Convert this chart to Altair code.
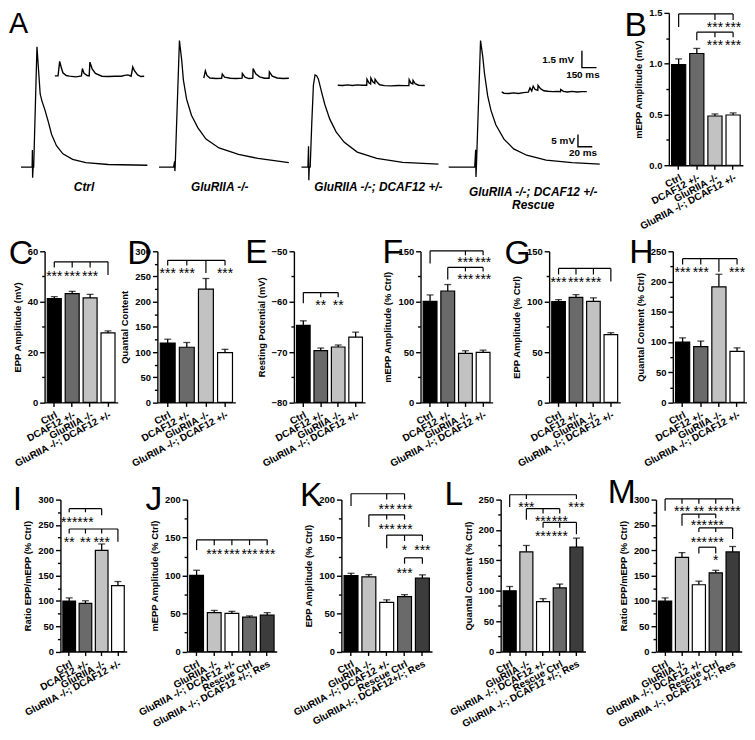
import altair as alt
import pandas as pd

FONT = "Liberation Sans"
SX = 0.985
SY = 0.975
ANGLE = -28
LETTER_SIZE = 34

# ---------------- categories / colours ----------------
GROUPS_4 = ["Ctrl", "DCAF12 +/-", "GluRIIA -/-", "GluRIIA -/-; DCAF12 +/-"]
GROUPS_5 = ["Ctrl", "GluRIIA -/-", "GluRIIA -/-; DCAF12 +/-", "Rescue Ctrl", "GluRIIA -/-; DCAF12 +/-; Res"]
GROUPS_5K = ["Ctrl", "GluRIIA -/-", "GluRIIA -/-; DCAF12 +/-", "Rescue Ctrl", "GluRIIA-/-; DCAF12+/-; Res"]
COLORS_4 = ["#000000", "#6a6a6a", "#c2c2c2", "#ffffff"]
COLORS_5 = ["#000000", "#c2c2c2", "#ffffff", "#6a6a6a", "#3c3c3c"]

# ---------------- bar values (mean, s.e.m.) ----------------
B_MEAN = [0.99, 1.10, 0.485, 0.495]; B_ERR = [0.057, 0.05, 0.02, 0.02]
C_MEAN = [41.2, 43.2, 41.5, 27.6]; C_ERR = [0.8, 0.9, 1.4, 0.8]
D_MEAN = [118, 109.5, 225, 99]; D_ERR = [7.5, 9.5, 21, 6.4]
E_MEAN = [-64.7, -69.7, -69.0, -67.05]; E_ERR = [0.9, 0.5, 0.4, 1.0]
F_MEAN = [100.3, 110.6, 48.7, 49.7]; F_ERR = [6.4, 6.4, 2.6, 2.2]
G_MEAN = [100, 104.2, 100.3, 67.3]; G_ERR = [2, 2.8, 3.5, 1.9]
H_MEAN = [99.9, 92.4, 191.2, 84.4]; H_ERR = [6.9, 9.1, 20.8, 5.9]
I_MEAN = [99.6, 95.1, 199.7, 130]; I_ERR = [6.3, 5.1, 12.7, 8.2]
J_MEAN = [100.2, 51.2, 50.3, 45.2, 47.8]; J_ERR = [6.8, 2.9, 2.6, 1.7, 3.4]
K_MEAN = [100, 98.3, 64.7, 72.3, 96.6]; K_ERR = [3, 3, 3.4, 2.6, 4.3]
L_MEAN = [100, 164, 82, 104.6, 172]; L_ERR = [7, 10.5, 5, 6.4, 14.6]
M_MEAN = [99.6, 185.8, 131.9, 155.4, 196.6]; M_ERR = [6.3, 9.5, 7, 5, 10.8]

# ---------------- significance brackets ----------------
# horizontal lines (from group, to group, level); legs (group, top, bottom); stars (group, level, text)
B_HL = [(0, 3, 1.49), (1, 3, 1.31)]
B_LEG = [(0, 1.49, 1.36), (2, 1.49, 1.43), (3, 1.49, 1.43), (1, 1.31, 1.23), (2, 1.31, 1.26), (3, 1.31, 1.26)]
B_ST = [(2, 1.39, "***"), (3, 1.39, "***"), (2, 1.21, "***"), (3, 1.21, "***")]
C_HL = [(0, 3, 55.8)]
C_LEG = [(0, 55.8, 53.6), (1, 55.8, 53.6), (2, 55.8, 53.6), (3, 55.8, 50.6)]
C_ST = [(0, 51.5, "***"), (1, 51.5, "***"), (2, 51.5, "***")]
D_HL = [(0, 3, 282)]
D_LEG = [(0, 282, 272), (1, 282, 272), (2, 282, 257), (3, 282, 272)]
D_ST = [(0, 262, "***"), (1, 262, "***"), (3, 262, "***")]
E_HL = [(0, 2, -58.2)]
E_LEG = [(0, -58.2, -60.3), (1, -58.2, -59.1), (2, -58.2, -59.1)]
E_ST = [(1, -60.0, "**"), (2, -60.0, "**")]
F_HL = [(0, 3, 150.5), (1, 3, 134)]
F_LEG = [(0, 150.5, 138), (2, 150.5, 146), (3, 150.5, 146), (1, 134, 122), (2, 134, 130), (3, 134, 130)]
F_ST = [(2, 142, "***"), (3, 142, "***"), (2, 125.5, "***"), (3, 125.5, "***")]
G_HL = [(0, 3, 133)]
G_LEG = [(0, 133, 127), (1, 133, 127), (2, 133, 127), (3, 133, 120)]
G_ST = [(0, 122.5, "***"), (1, 122.5, "***"), (2, 122.5, "***")]
H_HL = [(0, 3, 237.8)]
H_LEG = [(0, 237.8, 228), (1, 237.8, 228), (2, 237.8, 216), (3, 237.8, 228)]
H_ST = [(0, 221, "***"), (1, 221, "***"), (3, 221, "***")]
I_HL = [(0, 2, 282), (0, 3, 242)]
I_LEG = [(0, 282, 275), (1, 282, 275), (2, 282, 269), (0, 242, 233), (1, 242, 233), (2, 242, 233), (3, 242, 217)]
I_ST = [(0, 262, "***"), (1, 262, "***"), (0, 223, "**"), (1, 223, "**"), (2, 223, "***")]
J_HL = [(0, 4, 147)]
J_LEG = [(0, 147, 133.5), (1, 147, 140), (2, 147, 140), (3, 147, 140), (4, 147, 140)]
J_ST = [(1, 132, "***"), (2, 132, "***"), (3, 132, "***"), (4, 132, "***")]
K_HL = [(0, 3, 207.7), (1, 3, 180), (2, 4, 153.3), (3, 4, 123.4)]
K_LEG = [(0, 207.7, 191.6), (2, 207.7, 200), (3, 207.7, 200), (1, 180, 164), (2, 180, 173.7), (3, 180, 173.7),
         (2, 153.3, 136), (3, 153.3, 145.6), (4, 153.3, 145.6), (3, 123.4, 115.6), (4, 123.4, 115.6)]
K_ST = [(2, 191.6, "***"), (3, 191.6, "***"), (2, 164.7, "***"), (3, 164.7, "***"), (3, 137, "*"), (4, 137, "***"), (3, 107.3, "***")]
L_HL = [(0, 4, 258), (1, 3, 235), (2, 4, 212.5)]
L_LEG = [(0, 258, 238), (1, 258, 251), (4, 258, 251), (1, 235, 216.7), (2, 235, 227), (3, 235, 227),
         (2, 212.5, 203.5), (3, 212.5, 203.5), (4, 212.5, 193)]
L_ST = [(1, 242, "***"), (4, 242, "***"), (2, 219, "***"), (3, 219, "***"), (2, 194.5, "***"), (3, 194.5, "***")]
M_HL = [(0, 4, 301.3), (1, 3, 271.5), (2, 4, 244), (2, 3, 206)]
M_LEG = [(0, 301.3, 278), (1, 301.3, 292), (2, 301.3, 292), (3, 301.3, 292), (4, 301.3, 292),
         (1, 271.5, 248.6), (2, 271.5, 263), (3, 271.5, 263), (2, 244, 236), (3, 244, 236), (4, 244, 222),
         (2, 206, 193.4), (3, 206, 193.4)]
M_ST = [(1, 282.3, "***"), (2, 282.3, "**"), (3, 282.3, "***"), (4, 282.3, "***"), (2, 255, "***"), (3, 255, "***"),
        (2, 223, "***"), (3, 223, "***"), (3, 187, "*")]

# ---------------- panel A traces (EPP: ms, mV ; mEPP: ms, mV) ----------------
EPP1_T = [-16, -0.4, 0, 0.3, 1.0, 1.8, 6.4, 8.6, 10.9, 13.2, 17.7, 22.2, 26.9, 33.7, 42.7, 56.3, 74.6, 106, 161]
EPP1_V = [0, 0, 7, -4.3, 0, 0, 49.3, 39.8, 30, 27.3, 23.3, 18.7, 13.4, 8.8, 5.5, 3.2, 1.9, 1.1, 0.8]
EPP2_T = [-21.8, -1.4, 0, 0.4, 0.8, 6.8, 10, 12.3, 16.8, 23.6, 32.7, 44, 62.2, 89.5, 116.8, 160]
EPP2_V = [0, 0, 2.4, -1.6, 0, 51.9, 43.8, 35.8, 27.9, 21.3, 16.1, 11.5, 7.9, 5.3, 3.6, 1.9]
EPP3_T = [-9.5, -0.5, 0.4, 0.8, 1.4, 2.7, 4.9, 7.2, 9.5, 11.7, 14.1, 18.6, 23.2, 30, 39, 50.5, 68.6, 95.9, 132.3, 182.3]
EPP3_V = [0, 0, 8.6, -5.3, 0, 0, 17.8, 33.6, 37.8, 37.5, 36.2, 30.9, 25.7, 19.8, 14.5, 10.2, 6.2, 3.6, 2, 1.3]
EPP4_T = [-37.8, -1.4, 0, 0.4, 1, 6.8, 10, 12.3, 16.8, 21.4, 28.2, 39.6, 53.2, 71.4, 98.6, 135, 173.7]
EPP4_V = [0, 0, 7.1, -4, 0, 51.9, 45.1, 38.5, 29.2, 23.3, 17.4, 11.5, 7.5, 4.9, 2.9, 1.9, 1.3]

MEPP1_T = [0, 33, 50, 67, 83, 117, 150, 217, 273, 283, 300, 333, 353, 360, 383, 417, 483, 550, 617, 683,
           717, 750, 783, 800, 817, 850, 883, 917]
MEPP1_V = [0, 0, 1.29, 0.72, 0.28, 0.03, -0.02, -0.09, 0, 0.66, 0.22, 0.03, 0, 1.23, 0.63, 0.22, -0.03, -0.06, -0.03, -0.03,
           0.05, 0.09, -0.03, 0.8, 0.46, 0.09, -0.06, -0.03]
MEPP2_T = [0, 16, 33, 63, 123, 183, 190, 213, 273, 333, 393, 396, 423, 463, 503, 506, 533, 573, 623, 670,
           673, 703, 753, 813, 873]
MEPP2_V = [0, 0.66, 0.23, 0.02, -0.03, 0, 0.38, 0.1, 0, -0.03, 0, 0.43, 0.1, -0.03, 0, 0.86, 0.40, 0.12, 0, 0,
           0.57, 0.19, 0.02, -0.03, 0]
MEPP3_T = [0, 50, 100, 150, 200, 250, 297, 300, 320, 337, 340, 360, 380, 383, 405, 430, 480, 550, 620, 690,
           730, 733, 750, 770, 773, 795, 830, 893]
MEPP3_V = [0, -0.03, 0.03, -0.03, 0.03, 0, 0, 0.54, 0.22, 0.11, 0.63, 0.3, 0.17, 0.54, 0.26, 0.04, -0.04, -0.06, -0.03, -0.04,
           -0.03, 0.49, 0.2, 0.11, 0.43, 0.13, 0, -0.03]
MEPP4_T = [0, 23, 73, 123, 173, 223, 273, 290, 308, 323, 343, 370, 373, 398, 433, 473, 523, 573, 603, 606,
           633, 673, 723, 773, 823, 873]
MEPP4_V = [0.11, 0, -0.03, 0.03, -0.03, 0.05, 0.09, 0.48, 0.2, 0.63, 0.33, 0.26, 0.69, 0.41, 0.22, 0.17, 0.14, 0.16, 0.14, 0.34,
           0.17, 0.11, 0.16, 0.11, 0.14, 0.14]

# genotype labels under the traces (text, time, voltage in that trace's coordinates)
TRACE_LABELS = [
    [("Ctrl", 72.3, -8.3)],
    [("GluRIIA -/-", 63.2, -8.3)],
    [("GluRIIA -/-; DCAF12 +/-", 98.2, -8.3)],
    [("GluRIIA -/-; DCAF12 +/-", 80.5, -10.3), ("Rescue", 80.5, -15.6)],
]

# scale bars (in the coordinates of the fourth trace)
EPP_BAR_T = [143.2, 143.2, 163.2]
EPP_BAR_V = [13.4, 8.4, 8.4]
MEPP_BAR_T = [823, 823, 973]
MEPP_BAR_V = [3.79, 2.29, 2.29]
EPP_BAR_TEXT = ["5 mV", "20 ms"]
MEPP_BAR_TEXT = ["1.5 mV", "150 ms"]


def ticks(lo, hi, step):
    out, k = [], 0
    while lo + k * step <= hi + 1e-9:
        out.append(round(lo + k * step, 6))
        k += 1
    return out


def letter_layer(letter, dx, by, size=LETTER_SIZE):
    # panel letter, placed relative to the panel's plotting area (pixels)
    return alt.Chart(pd.DataFrame({"s": [letter]})).mark_text(
        font=FONT, fontSize=size, align="left", baseline="alphabetic", color="black"
    ).encode(x=alt.value(dx * SX), y=alt.value(by * SY), text="s:N")


def spacer(w, h=1.0):
    return alt.Chart(pd.DataFrame({"s": [0]})).mark_point(opacity=0, size=1).encode(
        x=alt.value(0), y=alt.value(0)
    ).properties(width=w * SX, height=h * SY)


def bar_panel(letter, cats, colors, means, errs, base, ydom, major, minor, fmt, ytitle,
              w, h, hl, legs, stars, ldx, lby):
    n = len(cats)
    bars = pd.DataFrame({"g": cats, "v": means, "b": [base] * n, "col": colors,
                         "e": [m + e for m, e in zip(means, errs)]})
    hdf = pd.DataFrame({"g1": [cats[a] for a, b, y in hl], "g2": [cats[b] for a, b, y in hl],
                        "y": [y for a, b, y in hl]})
    ldf = pd.DataFrame({"g": [cats[a] for a, y1, y2 in legs], "y1": [y1 for a, y1, y2 in legs],
                        "y2": [y2 for a, y1, y2 in legs]})
    sdf = pd.DataFrame({"g": [cats[a] for a, y, t in stars], "y": [y for a, y, t in stars],
                        "t": [t for a, y, t in stars]})

    xs = alt.Scale(domain=cats, paddingInner=0.22, paddingOuter=0.15)
    xa = alt.Axis(title=None, labelAngle=ANGLE, labelAlign="right", labelBaseline="top", labelPadding=3,
                  tickSize=4, labelOverlap=False, labelLimit=400, labelFontSize=10)
    ys = alt.Scale(domain=ydom, nice=False, zero=False)
    minor_test = f"abs(datum.value % {major}) > 1e-6"
    ya_kw = dict(title=ytitle, values=ticks(ydom[0], ydom[1], minor),
                 labelExpr=f"{minor_test} ? '' : datum.label",
                 tickSize={"condition": {"test": minor_test, "value": 3}, "value": 5},
                 labelFlush=False, titlePadding=5)
    if fmt:
        ya_kw["format"] = fmt
    ya = alt.Axis(**ya_kw)

    def X(f):
        return alt.X(f"{f}:N", scale=xs, axis=xa)

    def Y(f):
        return alt.Y(f"{f}:Q", scale=ys, axis=ya)

    err = alt.Chart(bars).mark_rule(color="black", strokeWidth=1.3).encode(x=X("g"), y=Y("v"), y2=alt.Y2("e"))
    cap = alt.Chart(bars).mark_tick(color="black", size=7, thickness=1.3, orient="horizontal").encode(x=X("g"), y=Y("e"))
    bar = alt.Chart(bars).mark_bar(stroke="black", strokeWidth=1.2, opacity=1).encode(
        x=X("g"), y=Y("v"), y2=alt.Y2("b"), color=alt.Color("col:N", scale=None, legend=None))
    hline = alt.Chart(hdf).mark_rule(color="black", strokeWidth=1.2).encode(
        x=alt.X("g1:N", scale=xs, axis=xa, bandPosition=0.5), x2=alt.X2("g2", bandPosition=0.5), y=Y("y"))
    leg = alt.Chart(ldf).mark_rule(color="black", strokeWidth=1.2).encode(x=X("g"), y=Y("y1"), y2=alt.Y2("y2"))
    star = alt.Chart(sdf).mark_text(font=FONT, fontSize=14, baseline="alphabetic", dy=8, color="black").encode(
        x=X("g"), y=Y("y"), text="t:N")
    return alt.layer(err, cap, bar, hline, leg, star, letter_layer(letter, ldx, lby)).properties(
        width=w * SX, height=h * SY)


EPP_Y = [0.79, 63.24]


def trace_panel(et, ev, edom, mt, mv, mdx, mdy, w, labels, bars=False):
    de = pd.DataFrame({"t": et, "v": ev, "i": list(range(len(et)))})
    dm = pd.DataFrame({"t": mt, "v": mv, "i": list(range(len(mt)))})
    dl = pd.DataFrame({"s": [a for a, b, c in labels], "t": [b for a, b, c in labels], "v": [c for a, b, c in labels]})
    ex = alt.Scale(domain=edom, nice=False, zero=False)
    ey = alt.Scale(domain=EPP_Y, nice=False, zero=False)
    mx = alt.Scale(domain=mdx, nice=False, zero=False)
    my = alt.Scale(domain=mdy, nice=False, zero=False)

    def EX():
        return alt.X("t:Q", scale=ex, axis=None)

    def EY():
        return alt.Y("v:Q", scale=ey, axis=None)

    def MX():
        return alt.X("t:Q", scale=mx, axis=None)

    def MY():
        return alt.Y("v:Q", scale=my, axis=None)

    layers = [
        alt.Chart(de).mark_line(color="black", strokeWidth=1.3).encode(x=EX(), y=EY(), order="i:Q"),
        alt.Chart(dm).mark_line(color="black", strokeWidth=1.4).encode(x=MX(), y=MY(), order="i:Q"),
        alt.Chart(dl).mark_text(font=FONT, fontSize=12, fontWeight="bold", fontStyle="italic",
                                align="center", baseline="middle", color="black").encode(x=EX(), y=EY(), text="s:N"),
    ]
    if bars:
        eb = pd.DataFrame({"t": EPP_BAR_T, "v": EPP_BAR_V, "i": [0, 1, 2]})
        mb = pd.DataFrame({"t": MEPP_BAR_T, "v": MEPP_BAR_V, "i": [0, 1, 2]})
        et1 = pd.DataFrame({"t": [EPP_BAR_T[0] - 4.2], "v": [(EPP_BAR_V[0] + EPP_BAR_V[1]) / 2], "s": [EPP_BAR_TEXT[0]]})
        et2 = pd.DataFrame({"t": [(EPP_BAR_T[1] + EPP_BAR_T[2]) / 2 - 3], "v": [EPP_BAR_V[1] - 2.5], "s": [EPP_BAR_TEXT[1]]})
        mt1 = pd.DataFrame({"t": [MEPP_BAR_T[0] - 80], "v": [(MEPP_BAR_V[0] + MEPP_BAR_V[1]) / 2 - 0.1], "s": [MEPP_BAR_TEXT[0]]})
        mt2 = pd.DataFrame({"t": [(MEPP_BAR_T[1] + MEPP_BAR_T[2]) / 2 - 65], "v": [MEPP_BAR_V[1] - 0.65], "s": [MEPP_BAR_TEXT[1]]})
        layers += [
            alt.Chart(eb).mark_line(color="black", strokeWidth=1.4).encode(x=EX(), y=EY(), order="i:Q"),
            alt.Chart(mb).mark_line(color="black", strokeWidth=1.4).encode(x=MX(), y=MY(), order="i:Q"),
            alt.Chart(et1).mark_text(font=FONT, fontSize=10, fontWeight="bold", align="right", baseline="middle").encode(
                x=EX(), y=EY(), text="s:N"),
            alt.Chart(et2).mark_text(font=FONT, fontSize=10, fontWeight="bold", align="center", baseline="middle").encode(
                x=EX(), y=EY(), text="s:N"),
            alt.Chart(mt1).mark_text(font=FONT, fontSize=10, fontWeight="bold", align="right", baseline="middle").encode(
                x=MX(), y=MY(), text="s:N"),
            alt.Chart(mt2).mark_text(font=FONT, fontSize=10, fontWeight="bold", align="center", baseline="middle").encode(
                x=MX(), y=MY(), text="s:N"),
        ]
    return alt.layer(*layers).resolve_scale(x="independent", y="independent").properties(
        width=w * SX, height=158 * SY)


P1 = trace_panel(EPP1_T, EPP1_V, [-30.0, 167.8], MEPP1_T, MEPP1_V, [-450, 1000], [-7.99, 5.63], 145, TRACE_LABELS[0])
P2 = trace_panel(EPP2_T, EPP2_V, [-31.0, 166.8], MEPP2_T, MEPP2_V, [-527, 923], [-7.78, 5.84], 145, TRACE_LABELS[1])
P3 = trace_panel(EPP3_T, EPP3_V, [-20.1, 211.9], MEPP3_T, MEPP3_V, [-450, 1250], [-7.16, 6.47], 170, TRACE_LABELS[2])
P4 = trace_panel(EPP4_T, EPP4_V, [-21.8, 176.0], MEPP4_T, MEPP4_V, [-427, 1023], [-6.44, 7.18], 145, TRACE_LABELS[3], bars=True)

PB = bar_panel("B", GROUPS_4, COLORS_4, B_MEAN, B_ERR, 0, [0, 1.5], 0.5, 0.25, ".1f", "mEPP Amplitude (mV)",
               76, 158, B_HL, B_LEG, B_ST, -45.6, 24)
PC = bar_panel("C", GROUPS_4, COLORS_4, C_MEAN, C_ERR, 0, [0, 60], 20, 10, None, "EPP Amplitude (mV)",
               75, 156.7, C_HL, C_LEG, C_ST, -36.7, 13)
PD = bar_panel("D", GROUPS_4, COLORS_4, D_MEAN, D_ERR, 0, [0, 300], 50, 25, None, "Quantal Content",
               80, 156.7, D_HL, D_LEG, D_ST, -31, 13)
PE = bar_panel("E", GROUPS_4, COLORS_4, E_MEAN, E_ERR, -80, [-80, -50], 10, 5, None, "Resting Potential (mV)",
               73, 156.7, E_HL, E_LEG, E_ST, -50, 12)
PF = bar_panel("F", GROUPS_4, COLORS_4, F_MEAN, F_ERR, 0, [0, 150], 50, 25, None, "mEPP Amplitude (% Ctrl)",
               74, 156.7, F_HL, F_LEG, F_ST, -39, 12)
PG = bar_panel("G", GROUPS_4, COLORS_4, G_MEAN, G_ERR, 0, [0, 150], 50, 25, None, "EPP Amplitude (% Ctrl)",
               73, 156.7, G_HL, G_LEG, G_ST, -45.7, 13)
PH = bar_panel("H", GROUPS_4, COLORS_4, H_MEAN, H_ERR, 0, [0, 250], 50, 25, None, "Quantal Content (% Ctrl)",
               76, 156.7, H_HL, H_LEG, H_ST, -44.8, 12)
PI = bar_panel("I", GROUPS_4, COLORS_4, I_MEAN, I_ERR, 0, [0, 300], 50, 25, None, "Ratio EPP/mEPP (% Ctrl)",
               68, 157.5, I_HL, I_LEG, I_ST, -49, 11)
PJ = bar_panel("J", GROUPS_5, COLORS_5, J_MEAN, J_ERR, 0, [0, 200], 50, 25, None, "mEPP Amplitude (% Ctrl)",
               92, 157.5, J_HL, J_LEG, J_ST, -42.7, 11)
PK = bar_panel("K", GROUPS_5K, COLORS_5, K_MEAN, K_ERR, 0, [0, 200], 50, 25, None, "EPP Amplitude (% Ctrl)",
               93, 157.5, K_HL, K_LEG, K_ST, -42.6, 7)
PL = bar_panel("L", GROUPS_5, COLORS_5, L_MEAN, L_ERR, 0, [0, 250], 50, 25, None, "Quantal Content (% Ctrl)",
               87, 157.5, L_HL, L_LEG, L_ST, -57.6, 6)
PM = bar_panel("M", GROUPS_5, COLORS_5, M_MEAN, M_ERR, 0, [0, 300], 50, 25, None, "Ratio EPP/mEPP (% Ctrl)",
               88, 157.5, M_HL, M_LEG, M_ST, -49.6, 4)

SA = alt.layer(spacer(1, 158), letter_layer("A", -1, 21, 29)).properties(width=1 * SX, height=158 * SY)

row1 = alt.hconcat(SA, P1, P2, P3, P4, spacer(69), PB, spacing=0, bounds="flush")
row2 = alt.hconcat(spacer(35), PC, spacer(40), PD, spacer(59), PE, spacer(56), PF, spacer(57), PG, spacer(53), PH,
                   spacing=0, bounds="flush")
row3 = alt.hconcat(spacer(51), PI, spacer(61), PJ, spacer(65), PK, spacer(70), PL, spacer(72), PM,
                   spacing=0, bounds="flush")

chart = alt.vconcat(row1, alt.vconcat(row2, row3, spacing=7), spacing=4).properties(
    padding={"left": 0, "top": -4, "right": 0, "bottom": 0}
).configure_view(stroke=None).configure_axis(
    labelFont=FONT, titleFont=FONT, labelFontWeight="bold", titleFontWeight="bold",
    labelColor="black", titleColor="black", domainColor="black", tickColor="black",
    domainWidth=1.4, tickWidth=1.4, labelFontSize=9.5, titleFontSize=9.5, grid=False
).configure_title(font=FONT, color="black")

chart.save("out.html", embed_options={"renderer": "svg", "actions": False})
